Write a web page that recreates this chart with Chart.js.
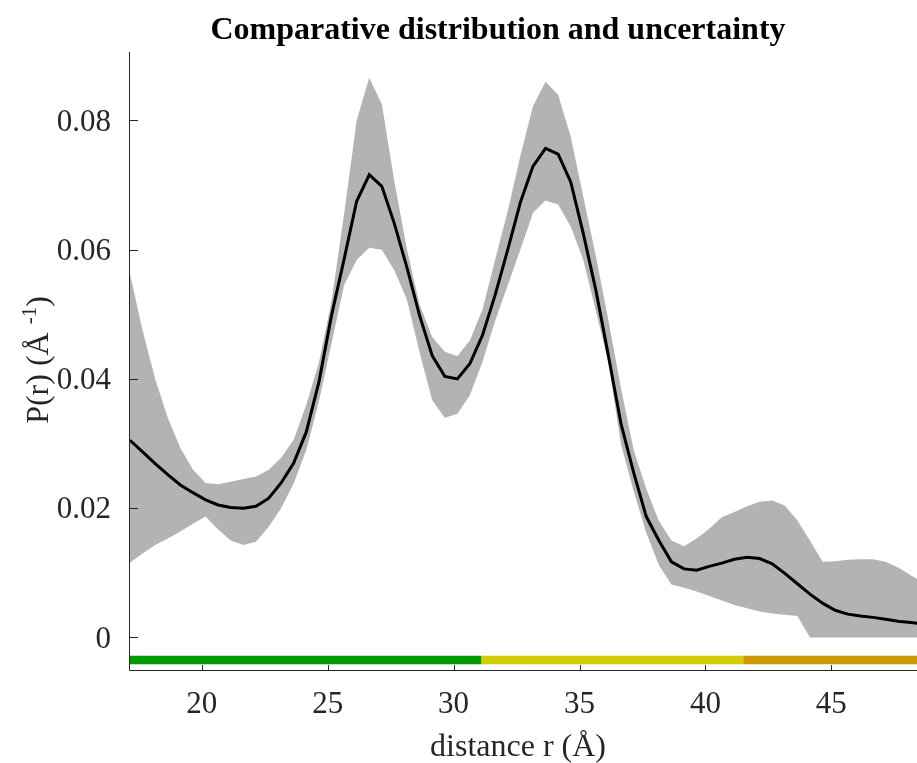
<!DOCTYPE html>
<html>
<head>
<meta charset="utf-8">
<script src="https://cdn.jsdelivr.net/npm/chart.js@4.4.0/dist/chart.umd.min.js"></script>
<style>
  html, body { margin: 0; padding: 0; background: #fff; }
  #wrap { width: 917px; height: 763px; }
</style>
</head>
<body>
<div id="wrap"><canvas id="pdfChart" width="917" height="763"></canvas></div>
<script>
// distance grid (Å)
const rVals = [
  17.15, 17.65, 18.15, 18.65, 19.15, 19.65, 20.15, 20.65, 21.15, 21.65,
  22.15, 22.65, 23.15, 23.65, 24.15, 24.65, 25.15, 25.65, 26.15, 26.65,
  27.15, 27.65, 28.15, 28.65, 29.15, 29.65, 30.15, 30.65, 31.15, 31.65,
  32.15, 32.65, 33.15, 33.65, 34.15, 34.65, 35.15, 35.65, 36.15, 36.65,
  37.15, 37.65, 38.15, 38.65, 39.15, 39.65, 40.15, 40.65, 41.15, 41.65,
  42.15, 42.65, 43.15, 43.65, 44.15, 44.65, 45.15, 45.65, 46.15, 46.65,
  47.15, 47.65, 48.15, 48.65
];
// mean P(r)
const meanVals = [
  0.0305, 0.0287, 0.0269, 0.0252, 0.0236, 0.0224, 0.0213, 0.0205, 0.0201, 0.0200,
  0.0203, 0.0215, 0.0239, 0.0270, 0.0318, 0.0395, 0.0498, 0.0585, 0.0675, 0.0716,
  0.0698, 0.0640, 0.0572, 0.0498, 0.0436, 0.0404, 0.0400, 0.0424, 0.0468, 0.0530,
  0.0600, 0.0673, 0.0729, 0.0757, 0.0748, 0.0705, 0.0625, 0.0537, 0.0435, 0.0330,
  0.0255, 0.0187, 0.0150, 0.0117, 0.0106, 0.0104, 0.0110, 0.0115, 0.0121, 0.0124,
  0.0122, 0.0114, 0.0099, 0.0083, 0.0067, 0.0053, 0.0042, 0.0036, 0.0033, 0.0031,
  0.0028, 0.0025, 0.0023, 0.0021
];
// upper edge of uncertainty band
const upperVals = [
  0.0563, 0.0475, 0.0400, 0.0340, 0.0293, 0.0260, 0.0239, 0.0237, 0.0241, 0.0245,
  0.0249, 0.0259, 0.0278, 0.0306, 0.0360, 0.0425, 0.0520, 0.0655, 0.0800, 0.0866,
  0.0825, 0.0705, 0.0600, 0.0515, 0.0465, 0.0442, 0.0435, 0.0460, 0.0508, 0.0585,
  0.0660, 0.0745, 0.0822, 0.0860, 0.0840, 0.0775, 0.0682, 0.0590, 0.0490, 0.0385,
  0.0290, 0.0230, 0.0180, 0.0150, 0.0141, 0.0153, 0.0168, 0.0186, 0.0194, 0.0203,
  0.0210, 0.0212, 0.0204, 0.0181, 0.0150, 0.0117, 0.0118, 0.0120, 0.0121, 0.0121,
  0.0117, 0.0108, 0.0096, 0.0085
];
// lower edge of uncertainty band
const lowerVals = [
  0.0116, 0.0130, 0.0143, 0.0153, 0.0164, 0.0176, 0.0187, 0.0167, 0.0150, 0.0143,
  0.0148, 0.0171, 0.0200, 0.0238, 0.0290, 0.0365, 0.0455, 0.0545, 0.0584, 0.0603,
  0.0600, 0.0568, 0.0522, 0.0441, 0.0367, 0.0340, 0.0346, 0.0375, 0.0427, 0.0490,
  0.0545, 0.0600, 0.0657, 0.0676, 0.0670, 0.0636, 0.0584, 0.0505, 0.0425, 0.0298,
  0.0226, 0.0162, 0.0112, 0.0082, 0.0077, 0.0071, 0.0064, 0.0057, 0.0050, 0.0045,
  0.0040, 0.0037, 0.0035, 0.0033, 0.0000, 0.0000, 0.0000, 0.0000, 0.0000, 0.0000,
  0.0000, 0.0000, 0.0000, 0.0000
];
// reliability zones along r
const zoneStarts = [17.15, 31.1, 41.5];
const zoneEnds = [31.1, 41.5, 48.4];
const zoneLevel = -0.0035;

const xTicks = [20, 25, 30, 35, 40, 45];
const yTicks = [0, 0.02, 0.04, 0.06, 0.08];

const zoneColors = ['#009900', '#d0cd00', '#cc9900'];
const ink = '#262626';
const serif = '"Liberation Serif", "Times New Roman", serif';

const pts = vals => rVals.map((r, i) => ({ x: r, y: vals[i] }));

const zoneSets = zoneStarts.map((s, i) => ({
  data: [{ x: s, y: zoneLevel }, { x: zoneEnds[i], y: zoneLevel }],
  borderColor: zoneColors[i],
  borderWidth: 8.5,
  borderCapStyle: 'butt',
  pointRadius: 0,
  fill: false
}));

// axis lines, inward ticks and titles
const axisDecor = {
  id: 'axisDecor',
  afterDraw(chart) {
    const { ctx, chartArea: a, scales: { x, y } } = chart;
    ctx.save();
    ctx.strokeStyle = ink;
    ctx.lineWidth = 1;
    ctx.beginPath();
    ctx.moveTo(a.left - 0.5, a.top);
    ctx.lineTo(a.left - 0.5, a.bottom - 0.5);
    ctx.lineTo(a.right, a.bottom - 0.5);
    xTicks.forEach(v => {
      const px = Math.round(x.getPixelForValue(v)) + 0.5;
      ctx.moveTo(px, a.bottom);
      ctx.lineTo(px, a.bottom - 6);
    });
    yTicks.forEach(v => {
      const py = Math.round(y.getPixelForValue(v)) + 0.5;
      ctx.moveTo(a.left, py);
      ctx.lineTo(a.left + 8, py);
    });
    ctx.stroke();

    // title
    ctx.fillStyle = '#000';
    ctx.font = 'bold 32px ' + serif;
    ctx.textAlign = 'center';
    ctx.textBaseline = 'alphabetic';
    ctx.fillText('Comparative distribution and uncertainty', 498, 39);

    // x label
    ctx.fillStyle = ink;
    ctx.font = '32px ' + serif;
    ctx.fillText('distance r (Å)', 518, 756);

    // y label with superscript
    ctx.translate(48, 360);
    ctx.rotate(-Math.PI / 2);
    const mainA = 'P(r) (Å ', sup = '-1', mainB = ')';
    ctx.font = '32px ' + serif;
    const wA = ctx.measureText(mainA).width, wB = ctx.measureText(mainB).width;
    ctx.font = '21px ' + serif;
    const wS = ctx.measureText(sup).width;
    let cx = -(wA + wS + wB) / 2;
    ctx.textAlign = 'left';
    ctx.font = '32px ' + serif;
    ctx.fillText(mainA, cx, 0);
    cx += wA;
    ctx.font = '21px ' + serif;
    ctx.fillText(sup, cx, -12);
    cx += wS;
    ctx.font = '32px ' + serif;
    ctx.fillText(mainB, cx, 0);
    ctx.restore();
  }
};

new Chart(document.getElementById('pdfChart'), {
  type: 'line',
  data: {
    datasets: [
      {
        data: pts(meanVals),
        borderColor: '#000',
        borderWidth: 3,
        pointRadius: 0,
        fill: false
      },
      {
        data: pts(upperVals),
        borderWidth: 0,
        borderColor: 'rgba(0,0,0,0)',
        backgroundColor: '#b3b3b3',
        pointRadius: 0,
        fill: '+1'
      },
      {
        data: pts(lowerVals),
        borderWidth: 0,
        borderColor: 'rgba(0,0,0,0)',
        pointRadius: 0,
        fill: false
      },
      ...zoneSets
    ]
  },
  options: {
    responsive: false,
    animation: false,
    events: [],
    layout: { padding: { top: 52, left: 0, right: 0, bottom: 0 } },
    plugins: { legend: { display: false }, tooltip: { enabled: false }, title: { display: false } },
    scales: {
      x: {
        type: 'linear',
        min: 17.15,
        max: 48.4,
        grid: { display: false, drawTicks: false },
        border: { display: false },
        ticks: { color: ink, font: { family: serif, size: 31 }, padding: 15, maxRotation: 0 },
        afterBuildTicks: s => { s.ticks = xTicks.map(v => ({ value: v })); },
        afterFit: s => { s.height = 92; }
      },
      y: {
        min: -0.0052,
        max: 0.0906,
        grid: { display: false, drawTicks: false },
        border: { display: false },
        ticks: { color: ink, font: { family: serif, size: 31 }, padding: 19, labelOffset: 2, callback: v => String(v) },
        afterBuildTicks: s => { s.ticks = yTicks.map(v => ({ value: v })); },
        afterFit: s => { s.width = 130; }
      }
    }
  },
  plugins: [axisDecor]
});
</script>
</body>
</html>
